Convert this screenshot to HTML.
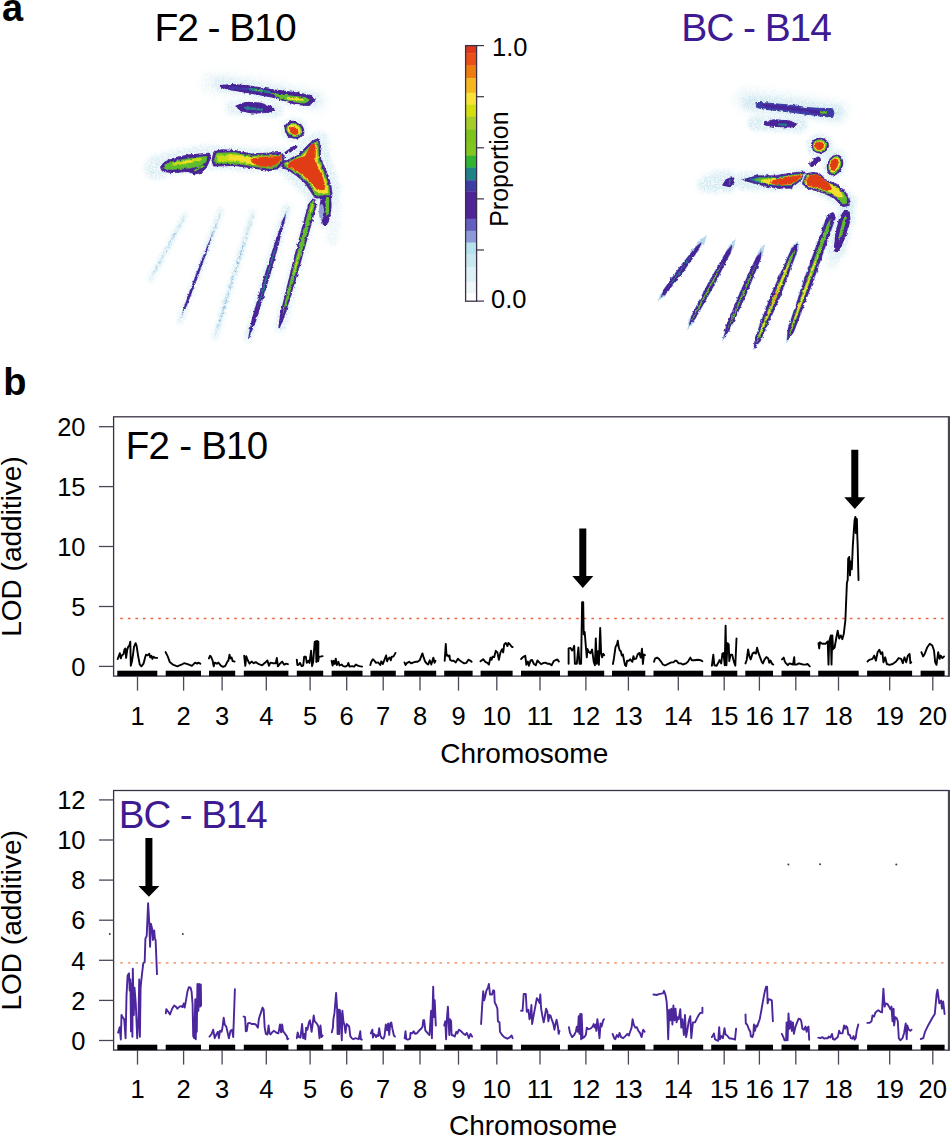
<!DOCTYPE html>
<html><head><meta charset="utf-8"><style>
html,body{margin:0;padding:0;background:#fff;}
body{width:950px;height:1137px;overflow:hidden;}
svg{display:block;}
text{font-family:"Liberation Sans", sans-serif;}
</style></head><body>
<svg width="950" height="1137" viewBox="0 0 950 1137">
<rect width="950" height="1137" fill="#fff"/>
<text x="2" y="20.5" font-size="38" font-weight="bold">a</text>
<text x="154.4" y="41.3" font-size="39" letter-spacing="-1.05">F2 - B10</text>
<text x="681.3" y="41" font-size="39" fill="#3e1b92" letter-spacing="-1.1">BC - B14</text>
<rect x="465.5" y="45.5" width="11" height="8.2" fill="rgb(222, 55, 28)"/>
<rect x="465.5" y="53.4" width="11" height="12.4" fill="rgb(232, 78, 22)"/>
<rect x="465.5" y="65.5" width="11" height="13.0" fill="rgb(238, 125, 15)"/>
<rect x="465.5" y="78.2" width="11" height="14.8" fill="rgb(245, 182, 30)"/>
<rect x="465.5" y="92.7" width="11" height="12.1" fill="rgb(248, 226, 55)"/>
<rect x="465.5" y="104.5" width="11" height="12.4" fill="rgb(212, 222, 15)"/>
<rect x="465.5" y="116.6" width="11" height="12.9" fill="rgb(165, 205, 40)"/>
<rect x="465.5" y="129.2" width="11" height="14.0" fill="rgb(125, 195, 25)"/>
<rect x="465.5" y="142.9" width="11" height="12.9" fill="rgb(130, 198, 32)"/>
<rect x="465.5" y="155.5" width="11" height="12.4" fill="rgb(50, 180, 50)"/>
<rect x="465.5" y="167.6" width="11" height="13.0" fill="rgb(30, 130, 135)"/>
<rect x="465.5" y="180.3" width="11" height="11.3" fill="rgb(60, 60, 165)"/>
<rect x="465.5" y="191.3" width="11" height="14.0" fill="rgb(80, 35, 150)"/>
<rect x="465.5" y="205.0" width="11" height="14.0" fill="rgb(80, 35, 150)"/>
<rect x="465.5" y="218.7" width="11" height="12.4" fill="rgb(100, 95, 190)"/>
<rect x="465.5" y="230.8" width="11" height="12.1" fill="rgb(140, 155, 215)"/>
<rect x="465.5" y="242.6" width="11" height="12.2" fill="rgb(180, 225, 235)"/>
<rect x="465.5" y="254.5" width="11" height="12.9" fill="rgb(200, 232, 238)"/>
<rect x="465.5" y="267.1" width="11" height="15.0" fill="rgb(220, 240, 245)"/>
<rect x="465.5" y="281.8" width="11" height="11.9" fill="rgb(238, 246, 248)"/>
<rect x="465.5" y="293.4" width="11" height="8.2" fill="rgb(255, 255, 255)"/>
<rect x="465.6" y="45.6" width="11" height="255.6" fill="none" stroke="#3b3147" stroke-width="1.3"/>
<line x1="476.5" y1="45.6" x2="484" y2="45.6" stroke="#3b3147" stroke-width="1.2"/>
<line x1="476.5" y1="96.7" x2="484" y2="96.7" stroke="#3b3147" stroke-width="1.2"/>
<line x1="476.5" y1="147.8" x2="484" y2="147.8" stroke="#3b3147" stroke-width="1.2"/>
<line x1="476.5" y1="198.9" x2="484" y2="198.9" stroke="#3b3147" stroke-width="1.2"/>
<line x1="476.5" y1="250.0" x2="484" y2="250.0" stroke="#3b3147" stroke-width="1.2"/>
<line x1="476.5" y1="301.1" x2="484" y2="301.1" stroke="#3b3147" stroke-width="1.2"/>
<text x="492" y="55.7" font-size="25.5">1.0</text>
<text x="491" y="308.2" font-size="25.5">0.0</text>
<text x="0" y="0" font-size="25" transform="translate(507.8,226.8) rotate(-90)">Proportion</text>
<defs><filter id="hb" filterUnits="userSpaceOnUse" x="0" y="0" width="950" height="400"><feGaussianBlur stdDeviation="2.2" result="b"/><feTurbulence type="fractalNoise" baseFrequency="0.7" numOctaves="2" seed="5" result="n"/><feColorMatrix in="n" type="matrix" values="0 0 0 0 0  0 0 0 0 0  0 0 0 0 0  0 0 0 2.2 -0.5" result="na"/><feComposite in="b" in2="na" operator="in"/></filter><filter id="hb2" filterUnits="userSpaceOnUse" x="0" y="0" width="950" height="400"><feGaussianBlur stdDeviation="4" result="b"/><feTurbulence type="fractalNoise" baseFrequency="0.7" numOctaves="2" seed="9" result="n"/><feColorMatrix in="n" type="matrix" values="0 0 0 0 0  0 0 0 0 0  0 0 0 0 0  0 0 0 2.2 -0.5" result="na"/><feComposite in="b" in2="na" operator="in"/></filter><filter id="speck" filterUnits="userSpaceOnUse" x="0" y="0" width="950" height="400"><feTurbulence type="fractalNoise" baseFrequency="0.45" numOctaves="2" seed="11" result="n"/><feColorMatrix in="n" type="matrix" values="0 0 0 0 0  0 0 0 0 0  0 0 0 0 0  0 0 0 3 -1.1" result="na"/><feComposite in="SourceGraphic" in2="na" operator="in"/></filter><filter id="grain" filterUnits="userSpaceOnUse" x="0" y="0" width="950" height="400"><feTurbulence type="fractalNoise" baseFrequency="0.3" numOctaves="2" seed="2" result="n"/><feDisplacementMap in="SourceGraphic" in2="n" scale="3" xChannelSelector="R" yChannelSelector="G" result="d"/><feGaussianBlur in="d" stdDeviation="0.6"/></filter></defs>
<g filter="url(#grain)">
<g opacity="0.85">
<path d="M212.0,83.0 L248.0,87.0 L273.0,92.0 L298.0,97.0 L316.0,101.0" fill="none" stroke="rgb(228,242,246)" stroke-width="22.0" stroke-linejoin="round" stroke-linecap="round" filter="url(#hb2)"/>
<path d="M220.0,84.0 L248.0,88.0 L273.0,92.5 L298.0,97.0 L314.0,100.5" fill="none" stroke="rgb(206,232,240)" stroke-width="14.0" stroke-linejoin="round" stroke-linecap="round" filter="url(#hb)"/>
<path d="M232.0,108.0 L258.0,108.5 L276.0,111.0" fill="none" stroke="rgb(206,232,240)" stroke-width="14.0" stroke-linejoin="round" stroke-linecap="round" filter="url(#hb)"/>
<ellipse cx="294.3" cy="129.6" rx="13" ry="12" fill="rgb(206,232,240)" filter="url(#hb)"/>
<path d="M156.0,168.0 L175.0,162.0 L210.0,157.0 L250.0,160.0 L282.0,160.0" fill="none" stroke="rgb(206,232,240)" stroke-width="24.0" stroke-linejoin="round" stroke-linecap="round" filter="url(#hb)"/>
<path d="M283.0,164.0 L313.0,142.0 L320.0,139.0 L323.0,160.0 L333.0,190.0 L331.0,198.0 L312.0,192.0 L292.0,173.0 Z" fill="rgb(206,232,240)" stroke="rgb(206,232,240)" stroke-width="16.0" stroke-linejoin="round" stroke-linecap="round" filter="url(#hb)"/>
<path d="M185.3,214.3 L150.0,280.6" fill="none" stroke="rgb(206,232,240)" stroke-width="5.0" stroke-linejoin="round" stroke-linecap="round" filter="url(#hb)"/>
<path d="M220.7,211.0 L179.8,321.5" fill="none" stroke="rgb(206,232,240)" stroke-width="6.0" stroke-linejoin="round" stroke-linecap="round" filter="url(#hb)"/>
<path d="M252.7,213.0 L215.0,337.0" fill="none" stroke="rgb(206,232,240)" stroke-width="6.0" stroke-linejoin="round" stroke-linecap="round" filter="url(#hb)"/>
<path d="M287.0,207.7 L248.3,338.0" fill="none" stroke="rgb(206,232,240)" stroke-width="9.0" stroke-linejoin="round" stroke-linecap="round" filter="url(#hb)"/>
<path d="M313.5,200.0 L280.4,326.0" fill="none" stroke="rgb(206,232,240)" stroke-width="12.0" stroke-linejoin="round" stroke-linecap="round" filter="url(#hb)"/>
<path d="M328.0,199.0 L323.5,222.0" fill="none" stroke="rgb(206,232,240)" stroke-width="12.0" stroke-linejoin="round" stroke-linecap="round" filter="url(#hb)"/>
<path d="M335.0,205.0 L332.0,240.0" fill="none" stroke="rgb(228,242,246)" stroke-width="12.0" stroke-linejoin="round" stroke-linecap="round" filter="url(#hb)"/>
</g>
<path d="M220.0,85.6 L232.0,84.6 L248.0,85.8 L273.0,89.8 L298.0,93.0 L310.0,95.5 L315.0,99.5 L309.0,105.5 L296.0,104.5 L273.0,97.2 L248.0,92.6 L232.0,90.0 L222.0,87.6 Z" fill="rgb(72,36,152)" stroke="rgb(72,36,152)" stroke-width="1.2" stroke-linejoin="round" stroke-linecap="round"/>
<path d="M230.0,87.4 L262.0,90.5" fill="none" stroke="rgb(62,58,165)" stroke-width="2.0" stroke-linejoin="round" stroke-linecap="round"/>
<path d="M250.0,89.0 L270.0,92.3" fill="none" stroke="rgb(35,130,135)" stroke-width="2.4" stroke-linejoin="round" stroke-linecap="round"/>
<path d="M256.0,89.8 L262.0,90.8" fill="none" stroke="rgb(95,188,45)" stroke-width="1.4" stroke-linejoin="round" stroke-linecap="round"/>
<path d="M272.0,93.5 L290.0,96.0 L305.0,97.5 L310.0,100.5 L304.0,103.0 L293.0,101.5 L278.0,97.5 Z" fill="rgb(95,188,45)" stroke="rgb(95,188,45)" stroke-width="1.0" stroke-linejoin="round" stroke-linecap="round"/>
<path d="M288.0,98.3 L302.0,99.5" fill="none" stroke="rgb(245,222,45)" stroke-width="2.6" stroke-linejoin="round" stroke-linecap="round"/>
<path d="M236.0,106.0 L246.0,102.3 L260.0,103.0 L271.0,106.5 L274.5,109.5 L268.0,112.5 L252.0,112.8 L241.0,110.8 Z" fill="rgb(72,36,152)" stroke="rgb(72,36,152)" stroke-width="1.2" stroke-linejoin="round" stroke-linecap="round"/>
<path d="M245.0,108.0 L262.0,109.5" fill="none" stroke="rgb(35,130,135)" stroke-width="2.4" stroke-linejoin="round" stroke-linecap="round"/>
<ellipse cx="294.3" cy="129.8" rx="10.4" ry="8.6" fill="rgb(72,36,152)" transform="rotate(28 294.3 129.8)"/>
<ellipse cx="294.2" cy="129.9" rx="8.2" ry="6.6" fill="rgb(95,188,45)" transform="rotate(28 294.2 129.9)"/>
<ellipse cx="294.2" cy="130.0" rx="6.8" ry="5.4" fill="rgb(245,222,45)" transform="rotate(28 294.2 130.0)"/>
<ellipse cx="294.0" cy="131.0" rx="4.8" ry="3.4" fill="rgb(224,62,22)" transform="rotate(35 294.0 131.0)"/>
<path d="M160.5,167.0 L164.0,162.5 L172.0,158.5 L188.0,155.0 L209.0,153.2 L210.5,158.0 L207.0,166.0 L203.0,172.0 L195.0,174.0 L188.0,171.5 L172.0,172.5 L163.0,171.5 Z" fill="rgb(72,36,152)" stroke="rgb(72,36,152)" stroke-width="1.0" stroke-linejoin="round" stroke-linecap="round"/>
<path d="M164.0,166.5 L168.0,163.0 L180.0,160.0 L200.0,157.0 L207.0,156.5 L206.0,162.0 L200.0,166.0 L190.0,168.0 L172.0,169.5 L165.0,169.0 Z" fill="rgb(95,188,45)" stroke="rgb(95,188,45)" stroke-width="0.6" stroke-linejoin="round" stroke-linecap="round"/>
<path d="M174.0,164.0 L200.0,159.5" fill="none" stroke="rgb(200,220,20)" stroke-width="3.4" stroke-linejoin="round" stroke-linecap="round"/>
<path d="M182.0,162.5 L192.0,161.0" fill="none" stroke="rgb(245,222,45)" stroke-width="1.6" stroke-linejoin="round" stroke-linecap="round"/>
<path d="M195.0,170.5 L203.0,166.0" fill="none" stroke="rgb(95,188,45)" stroke-width="2.0" stroke-linejoin="round" stroke-linecap="round"/>
<path d="M212.0,160.0 L214.0,151.5 L222.0,149.8 L235.0,150.5 L251.0,154.0 L270.0,153.0 L281.0,152.5 L284.5,156.0 L283.0,163.0 L278.0,168.5 L270.0,170.5 L253.0,168.0 L235.0,165.5 L214.0,166.0 Z" fill="rgb(72,36,152)" stroke="rgb(72,36,152)" stroke-width="1.0" stroke-linejoin="round" stroke-linecap="round"/>
<path d="M214.5,158.0 L217.0,153.0 L235.0,152.5 L251.0,156.0 L270.0,155.2 L281.5,154.6 L282.0,161.0 L276.0,167.0 L268.0,168.5 L252.0,166.0 L235.0,163.5 L216.0,163.5 Z" fill="rgb(95,188,45)" stroke="rgb(95,188,45)" stroke-width="0.5" stroke-linejoin="round" stroke-linecap="round"/>
<path d="M217.0,156.0 L235.0,154.5 L251.0,157.3 L268.0,156.5 L281.0,155.8 L280.0,161.0 L273.0,166.0 L262.0,166.0 L250.0,164.0 L235.0,161.5 L218.0,161.0 Z" fill="rgb(200,220,20)" stroke="rgb(200,220,20)" stroke-width="0.5" stroke-linejoin="round" stroke-linecap="round"/>
<path d="M228.0,156.0 L240.0,155.8 L251.0,157.8 L268.0,157.0 L281.0,156.2 L280.0,161.0 L273.0,165.8 L262.0,165.8 L250.0,163.5 L240.0,161.0 L229.0,159.5 Z" fill="rgb(245,222,45)" stroke="rgb(245,222,45)" stroke-width="0.5" stroke-linejoin="round" stroke-linecap="round"/>
<path d="M251.5,159.0 L262.0,157.2 L281.0,156.5 L280.5,160.0 L275.0,165.3 L268.0,166.5 L258.0,165.8 L252.0,162.0 Z" fill="rgb(224,62,22)" stroke="rgb(224,62,22)" stroke-width="0.8" stroke-linejoin="round" stroke-linecap="round"/>
<path d="M286.0,153.0 L296.0,146.0" fill="none" stroke="rgb(72,36,152)" stroke-width="3.0" stroke-linejoin="round" stroke-linecap="round"/>
<path d="M281.0,163.0 L290.0,159.0 L300.0,153.0 L306.0,147.0 L311.0,142.0 L316.0,139.3 L319.5,139.5 L320.0,150.0 L321.0,160.0 L324.0,166.0 L328.0,176.0 L331.0,186.0 L332.0,193.0 L331.5,198.0 L315.0,198.0 L311.0,192.0 L305.0,183.0 L297.0,176.0 L289.0,170.5 L282.0,167.0 Z" fill="rgb(72,36,152)" stroke="rgb(72,36,152)" stroke-width="0.8" stroke-linejoin="round" stroke-linecap="round"/>
<path d="M284.0,163.3 L292.0,160.0 L301.0,155.0 L307.0,149.0 L312.0,144.0 L316.0,141.5 L318.0,142.0 L318.5,151.0 L319.0,160.0 L322.0,167.0 L326.0,177.0 L329.0,187.0 L330.0,195.0 L316.5,195.5 L313.0,190.5 L307.0,182.0 L298.5,174.5 L290.0,169.0 L285.0,166.0 Z" fill="rgb(95,188,45)" stroke="rgb(95,188,45)" stroke-width="0.5" stroke-linejoin="round" stroke-linecap="round"/>
<path d="M286.0,163.5 L293.0,160.5 L302.0,156.5 L308.0,150.5 L312.5,145.5 L316.0,143.5 L317.0,151.0 L317.5,160.0 L320.5,167.5 L324.5,177.5 L327.5,187.0 L328.0,193.0 L318.0,193.0 L314.5,189.0 L308.5,181.0 L300.0,173.5 L291.0,168.0 L287.0,166.0 Z" fill="rgb(245,222,45)" stroke="rgb(245,222,45)" stroke-width="0.5" stroke-linejoin="round" stroke-linecap="round"/>
<path d="M287.5,163.8 L295.0,159.5 L305.0,156.5 L308.5,150.0 L311.5,144.5 L314.5,144.0 L315.5,150.0 L315.0,160.0 L318.0,168.0 L322.5,177.5 L325.0,186.0 L324.0,190.0 L317.0,189.5 L310.0,181.0 L302.0,174.0 L294.0,169.0 L288.5,166.5 Z" fill="rgb(224,62,22)" stroke="rgb(224,62,22)" stroke-width="0.8" stroke-linejoin="round" stroke-linecap="round"/>
<path d="M186.0,213.0 L181.0,219.2 L165.7,246.6 L151.4,274.4 L149.0,282.0 L149.0,282.0 L154.0,275.8 L169.3,248.4 L183.6,220.6 L186.0,213.0 Z" fill="rgb(200,228,240)" filter="url(#speck)"/>
<path d="M182.3,219.9 L174.4,233.4 L163.1,254.0 L155.9,267.9 L152.7,275.1 L152.7,275.1 L156.9,268.5 L164.5,254.8 L175.4,234.0 L182.3,219.9 Z" fill="rgb(170,205,230)" filter="url(#speck)"/>
<path d="M222.0,209.0 L216.1,219.8 L198.4,265.2 L181.7,311.0 L179.0,323.0 L179.0,323.0 L184.9,312.2 L202.6,266.8 L219.3,221.0 L222.0,209.0 Z" fill="rgb(185,220,236)" filter="url(#speck)"/>
<path d="M216.8,222.7 L208.0,242.8 L194.6,276.8 L184.1,305.4 L180.3,319.6 L180.3,319.6 L186.8,306.4 L197.8,278.0 L210.2,243.6 L216.8,222.7 Z" fill="rgb(150,160,215)" filter="url(#speck)"/>
<path d="M212.5,234.1 L206.2,248.6 L195.0,276.9 L184.5,305.5 L182.0,315.0 L182.0,315.0 L186.4,306.3 L197.4,277.9 L207.7,249.2 L212.5,234.1 Z" fill="rgb(72,36,152)"/>
<path d="M254.0,211.0 L248.3,223.3 L231.9,274.3 L216.3,325.7 L214.0,339.0 L214.0,339.0 L219.7,326.7 L236.1,275.7 L251.7,224.3 L254.0,211.0 Z" fill="rgb(195,226,238)" filter="url(#speck)"/>
<path d="M248.0,230.2 L241.3,249.2 L229.1,287.5 L219.3,319.6 L216.0,332.6 L216.0,332.6 L220.7,320.0 L230.9,288.1 L242.7,249.6 L248.0,230.2 Z" fill="rgb(150,190,225)" filter="url(#speck)"/>
<path d="M288.0,206.0 L282.6,216.1 L264.9,272.1 L247.8,332.7 L248.0,340.0 L248.0,340.0 L252.2,333.9 L271.1,273.9 L287.0,217.4 L288.0,206.0 Z" fill="rgb(185,220,236)" filter="url(#speck)"/>
<path d="M286.0,212.7 L283.0,219.1 L273.9,245.6 L265.4,272.2 L251.7,319.2 L247.8,339.9 L248.2,340.1 L256.3,320.6 L270.6,273.8 L278.1,246.8 L285.0,219.7 L286.0,212.7 Z" fill="rgb(72,36,152)"/>
<path d="M278.0,239.5 L271.4,259.4 L263.3,286.2 L256.0,313.2 L256.0,313.2 L264.7,286.6 L272.6,259.8 L278.0,239.5 Z" fill="rgb(35,130,135)"/>
<path d="M312.6,198.6 L308.1,204.3 L292.7,262.5 L280.0,314.4 L278.3,327.8 L279.7,328.2 L285.0,315.8 L300.3,264.5 L316.4,206.6 L315.4,199.4 Z" fill="rgb(72,36,152)"/>
<path d="M314.0,199.0 L310.0,204.8 L294.6,263.0 L284.9,301.9 L282.5,315.1 L282.5,315.1 L287.1,302.5 L298.4,264.0 L314.5,206.1 L314.0,199.0 Z" fill="rgb(95,188,45)"/>
<path d="M312.9,202.9 L310.5,207.7 L309.8,214.5 L300.0,250.6 L295.6,263.3 L293.0,276.4 L293.0,276.4 L297.4,263.7 L300.0,250.6 L309.8,214.5 L312.6,208.3 L312.9,202.9 Z" fill="rgb(200,220,20)"/>
<path d="M321.0,196.8 L319.7,205.2 L320.3,216.4 L323.0,224.9 L327.0,225.1 L330.3,216.8 L331.7,205.6 L331.0,197.2 Z" fill="rgb(72,36,152)"/>
<ellipse cx="321.5" cy="212" rx="2.6" ry="8" fill="rgb(150,160,215)"/>
<path d="M326.3,197.0 L325.7,199.5 L325.7,212.0 L327.1,217.0 L327.1,217.0 L328.7,212.0 L329.2,199.5 L328.7,197.0 Z" fill="rgb(95,188,45)"/>
<g>
<path d="M745.0,99.0 L790.0,104.0 L838.0,112.0" fill="none" stroke="rgb(228,242,246)" stroke-width="22.0" stroke-linejoin="round" stroke-linecap="round" filter="url(#hb2)"/>
<path d="M750.0,103.0 L790.0,107.0 L836.0,113.0" fill="none" stroke="rgb(206,232,240)" stroke-width="16.0" stroke-linejoin="round" stroke-linecap="round" filter="url(#hb)"/>
<path d="M755.0,123.0 L800.0,125.0" fill="none" stroke="rgb(206,232,240)" stroke-width="15.0" stroke-linejoin="round" stroke-linecap="round" filter="url(#hb)"/>
<path d="M699.0,183.0 L712.0,174.0 L730.0,172.0 L736.0,180.0 L732.0,190.0 L712.0,191.0 L700.0,189.0 Z" fill="rgb(206,232,240)" stroke="rgb(206,232,240)" stroke-width="4.0" stroke-linejoin="round" stroke-linecap="round" filter="url(#hb)"/>
<ellipse cx="820" cy="146" rx="13" ry="12" fill="rgb(206,232,240)" filter="url(#hb)"/>
<ellipse cx="835" cy="164" rx="11" ry="15" fill="rgb(206,232,240)" transform="rotate(20 835 164)" filter="url(#hb)"/>
<path d="M744.0,181.0 L775.0,182.0 L803.0,178.0 L820.0,185.0 L848.0,202.0" fill="none" stroke="rgb(206,232,240)" stroke-width="18.0" stroke-linejoin="round" stroke-linecap="round" filter="url(#hb)"/>
<path d="M846.0,214.0 L836.0,250.0" fill="none" stroke="rgb(206,232,240)" stroke-width="18.0" stroke-linejoin="round" stroke-linecap="round" filter="url(#hb)"/>
<path d="M843.0,235.0 L832.0,262.0" fill="none" stroke="rgb(228,242,246)" stroke-width="14.0" stroke-linejoin="round" stroke-linecap="round" filter="url(#hb)"/>
</g>
<path d="M756.2,102.5 L763.2,102.7 L786.3,104.8 L809.5,107.8 L832.6,108.8 L834.0,113.2 L832.6,117.5 L809.5,114.6 L786.3,111.6 L763.0,109.0 L757.0,107.5 Z" fill="rgb(62,58,165)" stroke="rgb(62,58,165)" stroke-width="1.0" stroke-linejoin="round" stroke-linecap="round"/>
<path d="M764.0,105.5 L800.0,109.5 L826.0,113.5" fill="none" stroke="rgb(72,36,152)" stroke-width="3.0" stroke-linejoin="round" stroke-linecap="round"/>
<path d="M821.0,112.6 L826.0,112.8" fill="none" stroke="rgb(95,188,45)" stroke-width="2.0" stroke-linejoin="round" stroke-linecap="round"/>
<path d="M764.9,121.5 L774.7,119.7 L790.0,121.0 L796.7,124.0 L794.0,127.0 L774.7,126.5 L765.0,125.0 Z" fill="rgb(72,36,152)" stroke="rgb(72,36,152)" stroke-width="1.0" stroke-linejoin="round" stroke-linecap="round"/>
<path d="M778.0,124.5 L787.0,124.8" fill="none" stroke="rgb(35,130,135)" stroke-width="2.0" stroke-linejoin="round" stroke-linecap="round"/>
<ellipse cx="819.9" cy="145.6" rx="9.0" ry="7.8" fill="rgb(72,36,152)"/>
<ellipse cx="819.7" cy="145.6" rx="7.0" ry="6.2" fill="rgb(95,188,45)"/>
<ellipse cx="819.5" cy="145.6" rx="5.8" ry="5.2" fill="rgb(245,222,45)"/>
<ellipse cx="819.3" cy="145.6" rx="4.5" ry="4.3" fill="rgb(224,62,22)"/>
<path d="M812.0,164.0 L818.0,159.5" fill="none" stroke="rgb(72,36,152)" stroke-width="5.5" stroke-linejoin="round" stroke-linecap="round"/>
<ellipse cx="835.0" cy="165.0" rx="7.8" ry="10.8" fill="rgb(72,36,152)" transform="rotate(22 835.0 165.0)"/>
<ellipse cx="834.8" cy="165.0" rx="6.0" ry="9.0" fill="rgb(95,188,45)" transform="rotate(22 834.8 165.0)"/>
<ellipse cx="834.5" cy="164.8" rx="5.0" ry="7.8" fill="rgb(245,222,45)" transform="rotate(22 834.5 164.8)"/>
<ellipse cx="834.1" cy="164.5" rx="3.8" ry="6.4" fill="rgb(224,62,22)" transform="rotate(22 834.1 164.5)"/>
<path d="M723.0,185.0 L727.0,179.0 L733.5,178.0 L734.0,182.0 L730.0,186.5 Z" fill="rgb(72,36,152)" stroke="rgb(72,36,152)" stroke-width="1.5" stroke-linejoin="round" stroke-linecap="round"/>
<path d="M730.0,180.0 L729.5,184.5" fill="none" stroke="rgb(35,130,135)" stroke-width="1.5" stroke-linejoin="round" stroke-linecap="round"/>
<path d="M743.0,179.6 L757.0,175.8 L775.9,175.8 L794.8,172.6 L805.0,172.0 L801.0,180.0 L791.0,188.2 L775.9,188.2 L757.0,184.2 Z" fill="rgb(72,36,152)" stroke="rgb(72,36,152)" stroke-width="0.8" stroke-linejoin="round" stroke-linecap="round"/>
<path d="M750.0,179.5 L757.0,177.5 L775.9,177.5 L794.8,174.5 L803.0,174.0 L800.0,179.0 L791.0,185.5 L775.9,185.5 L757.0,182.0 Z" fill="rgb(35,130,135)" stroke="rgb(35,130,135)" stroke-width="0.5" stroke-linejoin="round" stroke-linecap="round"/>
<path d="M755.0,179.5 L760.0,178.0 L775.9,178.0 L794.8,175.0 L802.5,174.5 L799.5,179.0 L790.5,185.0 L775.9,185.0 L760.0,182.0 Z" fill="rgb(95,188,45)" stroke="rgb(95,188,45)" stroke-width="0.5" stroke-linejoin="round" stroke-linecap="round"/>
<path d="M762.0,180.0 L775.9,178.5 L794.8,175.5 L802.0,175.0 L799.0,179.0 L790.0,184.5 L775.9,184.5 L763.0,182.5 Z" fill="rgb(245,222,45)" stroke="rgb(245,222,45)" stroke-width="0.5" stroke-linejoin="round" stroke-linecap="round"/>
<path d="M772.0,181.0 L780.0,178.5 L794.8,176.2 L801.0,175.8 L798.0,179.5 L790.0,184.0 L778.0,184.5 L772.0,183.5 Z" fill="rgb(224,62,22)" stroke="rgb(224,62,22)" stroke-width="0.8" stroke-linejoin="round" stroke-linecap="round"/>
<path d="M806.2,173.9 L813.8,172.0 L820.1,173.9 L826.4,180.2 L836.5,184.0 L844.1,190.3 L849.2,197.9 L849.2,205.5 L842.8,206.7 L834.0,197.9 L820.1,191.6 L808.7,189.0 L802.4,184.0 Z" fill="rgb(72,36,152)" stroke="rgb(72,36,152)" stroke-width="0.8" stroke-linejoin="round" stroke-linecap="round"/>
<path d="M807.0,176.0 L814.0,174.2 L820.0,176.0 L826.0,182.0 L836.0,186.0 L843.0,192.0 L847.0,198.5 L846.5,203.5 L843.0,204.0 L834.5,196.0 L820.0,189.5 L809.0,187.0 L804.5,183.5 Z" fill="rgb(95,188,45)" stroke="rgb(95,188,45)" stroke-width="0.5" stroke-linejoin="round" stroke-linecap="round"/>
<path d="M807.5,176.5 L815.0,175.0 L821.0,177.0 L828.0,183.0 L836.0,187.0 L841.0,192.0 L843.0,197.0 L838.0,197.0 L830.0,192.0 L820.0,189.0 L809.0,186.5 L805.5,183.0 Z" fill="rgb(245,222,45)" stroke="rgb(245,222,45)" stroke-width="0.5" stroke-linejoin="round" stroke-linecap="round"/>
<path d="M808.7,176.4 L816.3,174.5 L821.4,177.7 L828.9,184.0 L831.5,189.0 L826.4,190.3 L816.3,187.2 L808.1,185.3 L806.8,180.2 Z" fill="rgb(224,62,22)" stroke="rgb(224,62,22)" stroke-width="1.0" stroke-linejoin="round" stroke-linecap="round"/>
<path d="M707.0,235.0 L699.9,240.0 L679.7,265.9 L660.7,292.8 L658.0,301.0 L658.0,301.0 L665.1,296.0 L685.3,270.1 L704.3,243.2 L707.0,235.0 Z" fill="rgb(178,216,234)"/>
<path d="M702.1,241.6 L695.6,247.0 L680.2,266.3 L663.5,289.8 L660.5,297.7 L660.5,297.7 L667.2,292.4 L684.8,269.7 L698.8,249.4 L702.1,241.6 Z" fill="rgb(72,36,152)"/>
<path d="M692.3,254.8 L687.0,261.1 L672.3,280.9 L667.8,287.8 L667.8,287.8 L673.1,281.5 L687.8,261.7 L692.3,254.8 Z" fill="rgb(35,130,135)"/>
<path d="M736.0,238.0 L728.6,246.0 L707.7,282.7 L688.6,320.4 L686.0,331.0 L686.0,331.0 L693.4,323.0 L714.3,286.3 L733.4,248.6 L736.0,238.0 Z" fill="rgb(178,216,234)"/>
<path d="M733.0,243.6 L726.5,250.9 L708.2,283.0 L691.3,315.9 L688.5,326.4 L688.5,326.4 L695.7,318.2 L713.8,286.0 L730.5,253.0 L733.0,243.6 Z" fill="rgb(72,36,152)"/>
<path d="M723.5,261.2 L715.4,274.9 L695.3,312.0 L691.0,321.7 L691.0,321.7 L696.7,312.8 L716.6,275.5 L723.5,261.2 Z" fill="rgb(95,188,45)"/>
<path d="M765.0,243.0 L758.2,251.8 L739.8,290.9 L723.8,331.0 L722.0,342.0 L722.0,342.0 L728.8,333.2 L747.2,294.1 L763.2,254.0 L765.0,243.0 Z" fill="rgb(178,216,234)"/>
<path d="M761.6,250.9 L756.3,256.9 L740.4,291.2 L726.1,326.1 L723.3,339.0 L723.3,339.0 L730.8,328.2 L746.6,293.8 L760.8,258.8 L761.6,250.9 Z" fill="rgb(72,36,152)"/>
<path d="M756.4,262.8 L749.3,277.4 L734.1,311.9 L726.3,332.1 L726.3,332.1 L735.7,312.7 L750.6,277.9 L756.4,262.8 Z" fill="rgb(95,188,45)"/>
<path d="M798.0,241.0 L792.3,245.1 L770.6,294.0 L754.0,338.6 L753.0,351.0 L753.0,351.0 L761.0,341.4 L780.4,298.0 L799.2,247.9 L798.0,241.0 Z" fill="rgb(178,216,234)"/>
<path d="M797.1,243.2 L791.5,248.6 L771.2,294.2 L754.6,338.8 L753.9,348.8 L753.9,348.8 L760.4,341.2 L779.8,297.8 L797.3,251.0 L797.1,243.2 Z" fill="rgb(72,36,152)"/>
<path d="M794.4,249.8 L790.1,257.0 L773.7,295.3 L758.6,334.0 L756.1,343.3 L756.1,343.3 L760.9,335.0 L777.3,296.7 L792.4,258.0 L794.4,249.8 Z" fill="rgb(95,188,45)"/>
<path d="M789.9,260.8 L786.2,268.3 L774.5,295.6 L761.4,328.8 L758.4,337.8 L758.4,337.8 L762.6,329.2 L776.5,296.4 L787.3,268.7 L789.9,260.8 Z" fill="rgb(245,222,45)"/>
<path d="M780.0,285.0 L774.8,295.7 L771.0,307.0 L771.0,307.0 L776.2,296.3 L780.0,285.0 Z" fill="rgb(240,140,20)"/>
<path d="M833.0,212.0 L826.2,215.5 L804.6,276.2 L787.2,329.5 L786.0,344.0 L786.0,344.0 L794.2,332.1 L814.4,279.8 L836.1,219.0 L833.0,212.0 Z" fill="rgb(178,216,234)"/>
<path d="M833.0,212.0 L827.5,214.5 L805.1,276.4 L787.5,329.7 L786.9,341.4 L786.9,341.4 L793.9,331.9 L813.9,279.6 L835.7,217.4 L833.0,212.0 Z" fill="rgb(72,36,152)"/>
<path d="M830.6,218.6 L826.9,224.7 L807.7,277.4 L791.8,323.8 L788.4,337.4 L788.4,337.4 L794.3,324.6 L811.3,278.6 L829.7,225.7 L830.6,218.6 Z" fill="rgb(95,188,45)"/>
<path d="M821.2,245.0 L813.6,264.6 L803.9,290.9 L794.8,317.4 L790.7,330.8 L790.7,330.8 L796.0,317.8 L805.7,291.5 L814.8,265.0 L821.2,245.0 Z" fill="rgb(245,222,45)"/>
<path d="M844.2,210.3 L839.1,217.7 L835.2,234.2 L833.9,247.0 L834.7,251.7 L837.3,252.3 L840.3,248.8 L845.6,237.0 L850.5,220.7 L849.8,211.7 Z" fill="rgb(72,36,152)"/>
<path d="M845.9,215.1 L842.6,220.8 L839.0,235.2 L838.8,241.8 L838.8,241.8 L841.8,236.0 L845.9,221.7 L845.9,215.1 Z" fill="rgb(95,188,45)"/>
</g>
<text x="3.2" y="394.9" font-size="38" font-weight="bold">b</text>
<rect x="113.6" y="416.8" width="835" height="259.3" fill="none" stroke="#3b3147" stroke-width="1.3"/>
<line x1="949" y1="416.2" x2="949" y2="676.7" stroke="#4a4550" stroke-width="2.2"/>
<line x1="99" y1="666.4" x2="113.6" y2="666.4" stroke="#4e4458" stroke-width="1.3"/>
<text x="85.5" y="675.6" font-size="25.5" text-anchor="end">0</text>
<line x1="99" y1="606.5" x2="113.6" y2="606.5" stroke="#4e4458" stroke-width="1.3"/>
<text x="85.5" y="615.7" font-size="25.5" text-anchor="end">5</text>
<line x1="99" y1="546.5" x2="113.6" y2="546.5" stroke="#4e4458" stroke-width="1.3"/>
<text x="85.5" y="555.8" font-size="25.5" text-anchor="end">10</text>
<line x1="99" y1="486.6" x2="113.6" y2="486.6" stroke="#4e4458" stroke-width="1.3"/>
<text x="85.5" y="495.8" font-size="25.5" text-anchor="end">15</text>
<line x1="99" y1="426.7" x2="113.6" y2="426.7" stroke="#4e4458" stroke-width="1.3"/>
<text x="85.5" y="435.9" font-size="25.5" text-anchor="end">20</text>
<rect x="117.3" y="670.7" width="40.0" height="5.4" fill="#000"/>
<rect x="165.7" y="670.7" width="35.3" height="5.4" fill="#000"/>
<rect x="209" y="670.7" width="26.2" height="5.4" fill="#000"/>
<rect x="243.8" y="670.7" width="44.6" height="5.4" fill="#000"/>
<rect x="296.8" y="670.7" width="26.4" height="5.4" fill="#000"/>
<rect x="331.6" y="670.7" width="30.9" height="5.4" fill="#000"/>
<rect x="370.5" y="670.7" width="25.3" height="5.4" fill="#000"/>
<rect x="404.2" y="670.7" width="32.0" height="5.4" fill="#000"/>
<rect x="444.2" y="670.7" width="28.4" height="5.4" fill="#000"/>
<rect x="480.6" y="670.7" width="32.0" height="5.4" fill="#000"/>
<rect x="521" y="670.7" width="39.0" height="5.4" fill="#000"/>
<rect x="567.8" y="670.7" width="36.4" height="5.4" fill="#000"/>
<rect x="612" y="670.7" width="33.3" height="5.4" fill="#000"/>
<rect x="653.5" y="670.7" width="49.7" height="5.4" fill="#000"/>
<rect x="711.2" y="670.7" width="26.1" height="5.4" fill="#000"/>
<rect x="745.3" y="670.7" width="27.7" height="5.4" fill="#000"/>
<rect x="781.5" y="670.7" width="28.6" height="5.4" fill="#000"/>
<rect x="818.2" y="670.7" width="40.5" height="5.4" fill="#000"/>
<rect x="867.1" y="670.7" width="45.0" height="5.4" fill="#000"/>
<rect x="920.6" y="670.7" width="24.0" height="5.4" fill="#000"/>
<line x1="137.5" y1="676.1" x2="137.5" y2="690.6" stroke="#4e4458" stroke-width="1.3"/>
<text x="137.5" y="724.9" font-size="25.5" text-anchor="middle">1</text>
<line x1="183.6" y1="676.1" x2="183.6" y2="690.6" stroke="#4e4458" stroke-width="1.3"/>
<text x="183.6" y="724.9" font-size="25.5" text-anchor="middle">2</text>
<line x1="222.1" y1="676.1" x2="222.1" y2="690.6" stroke="#4e4458" stroke-width="1.3"/>
<text x="222.1" y="724.9" font-size="25.5" text-anchor="middle">3</text>
<line x1="266.3" y1="676.1" x2="266.3" y2="690.6" stroke="#4e4458" stroke-width="1.3"/>
<text x="266.3" y="724.9" font-size="25.5" text-anchor="middle">4</text>
<line x1="310.1" y1="676.1" x2="310.1" y2="690.6" stroke="#4e4458" stroke-width="1.3"/>
<text x="310.1" y="724.9" font-size="25.5" text-anchor="middle">5</text>
<line x1="346.7" y1="676.1" x2="346.7" y2="690.6" stroke="#4e4458" stroke-width="1.3"/>
<text x="346.7" y="724.9" font-size="25.5" text-anchor="middle">6</text>
<line x1="383.2" y1="676.1" x2="383.2" y2="690.6" stroke="#4e4458" stroke-width="1.3"/>
<text x="383.2" y="724.9" font-size="25.5" text-anchor="middle">7</text>
<line x1="420" y1="676.1" x2="420" y2="690.6" stroke="#4e4458" stroke-width="1.3"/>
<text x="420" y="724.9" font-size="25.5" text-anchor="middle">8</text>
<line x1="458.5" y1="676.1" x2="458.5" y2="690.6" stroke="#4e4458" stroke-width="1.3"/>
<text x="458.5" y="724.9" font-size="25.5" text-anchor="middle">9</text>
<line x1="496.8" y1="676.1" x2="496.8" y2="690.6" stroke="#4e4458" stroke-width="1.3"/>
<text x="496.8" y="724.9" font-size="25.5" text-anchor="middle">10</text>
<line x1="540" y1="676.1" x2="540" y2="690.6" stroke="#4e4458" stroke-width="1.3"/>
<text x="540" y="724.9" font-size="25.5" text-anchor="middle">11</text>
<line x1="585.9" y1="676.1" x2="585.9" y2="690.6" stroke="#4e4458" stroke-width="1.3"/>
<text x="585.9" y="724.9" font-size="25.5" text-anchor="middle">12</text>
<line x1="628.4" y1="676.1" x2="628.4" y2="690.6" stroke="#4e4458" stroke-width="1.3"/>
<text x="628.4" y="724.9" font-size="25.5" text-anchor="middle">13</text>
<line x1="678.3" y1="676.1" x2="678.3" y2="690.6" stroke="#4e4458" stroke-width="1.3"/>
<text x="678.3" y="724.9" font-size="25.5" text-anchor="middle">14</text>
<line x1="724.2" y1="676.1" x2="724.2" y2="690.6" stroke="#4e4458" stroke-width="1.3"/>
<text x="724.2" y="724.9" font-size="25.5" text-anchor="middle">15</text>
<line x1="759.4" y1="676.1" x2="759.4" y2="690.6" stroke="#4e4458" stroke-width="1.3"/>
<text x="759.4" y="724.9" font-size="25.5" text-anchor="middle">16</text>
<line x1="795.8" y1="676.1" x2="795.8" y2="690.6" stroke="#4e4458" stroke-width="1.3"/>
<text x="795.8" y="724.9" font-size="25.5" text-anchor="middle">17</text>
<line x1="838.5" y1="676.1" x2="838.5" y2="690.6" stroke="#4e4458" stroke-width="1.3"/>
<text x="838.5" y="724.9" font-size="25.5" text-anchor="middle">18</text>
<line x1="889.7" y1="676.1" x2="889.7" y2="690.6" stroke="#4e4458" stroke-width="1.3"/>
<text x="889.7" y="724.9" font-size="25.5" text-anchor="middle">19</text>
<line x1="932.8" y1="676.1" x2="932.8" y2="690.6" stroke="#4e4458" stroke-width="1.3"/>
<text x="932.8" y="724.9" font-size="25.5" text-anchor="middle">20</text>
<text x="440.2" y="763" font-size="28">Chromosome</text>
<text x="0" y="0" font-size="28" text-anchor="middle" transform="translate(21.1,546.5) rotate(-90)">LOD (additive)</text>
<line x1="115" y1="618.5" x2="948" y2="618.5" stroke="#ee6438" stroke-width="1.4" stroke-dasharray="2.6 5" stroke-dashoffset="2.4"/>
<text x="125.8" y="458.8" font-size="38.5" letter-spacing="-0.75">F2 - B10</text>
<polyline points="117.7,659.0 118.7,656.3 119.8,653.2 120.8,658.4 121.9,655.3 123.5,654.2 124.5,649.5 125.4,648.4 126.1,657.9 127.2,650.0 128.2,646.8 129.3,645.8 130.3,641.6 130.8,665.8 131.9,661.6 132.9,655.3 134.0,646.8 135.6,643.2 136.6,645.8 138.2,656.3 139.8,664.7 141.4,666.3 143.5,663.7 145.1,657.4 146.1,654.7 147.7,655.3 149.3,653.7 150.3,657.4 151.4,655.8 152.4,658.9 153.5,656.8 155.1,657.9 157.2,657.9" fill="none" stroke="#000" stroke-width="1.9" stroke-linejoin="round" stroke-linecap="round"/>
<polyline points="165.6,652.1 167.7,656.3 169.8,662.1 173.0,664.7 177.2,666.3 181.4,664.7 184.0,663.2 187.7,664.2 191.9,665.8 195.1,662.6 197.2,663.7 198.2,662.6 200.3,663.7" fill="none" stroke="#000" stroke-width="1.9" stroke-linejoin="round" stroke-linecap="round"/>
<polyline points="208.9,658.4 210.0,655.8 211.1,656.8 212.6,660.5 213.7,666.3 214.7,662.6 216.8,663.7 218.4,662.6 221.1,665.8 223.2,666.8 225.3,665.8 227.4,661.6 228.4,660.5 229.5,654.7 230.5,658.4 231.6,657.4 232.6,661.0 234.7,661.6" fill="none" stroke="#000" stroke-width="1.9" stroke-linejoin="round" stroke-linecap="round"/>
<polyline points="244.2,655.8 245.3,665.8 246.3,656.3 247.9,660.5 249.5,663.7 251.6,661.6 253.7,663.2 255.8,662.1 258.9,664.2 262.1,665.3 265.3,662.6 267.4,660.5 268.9,665.8 270.5,662.6 272.6,663.2 275.8,663.2 276.8,657.9 277.9,666.3 280.0,663.7 282.1,661.6 284.2,664.7 286.3,663.7 287.9,664.2" fill="none" stroke="#000" stroke-width="1.9" stroke-linejoin="round" stroke-linecap="round"/>
<polyline points="296.8,659.7 297.4,665.0 298.9,664.5 300.0,662.9 301.6,666.1 303.2,665.5 304.2,656.6 305.8,656.6 306.8,662.9 308.4,660.8 309.5,662.9 311.1,650.8 312.1,666.1 313.2,661.8 314.7,641.8 315.8,641.3 316.4,662.0 317.2,641.0 318.4,641.8 318.2,661.3 318.9,656.6 320.5,656.6 322.6,656.1" fill="none" stroke="#000" stroke-width="1.9" stroke-linejoin="round" stroke-linecap="round"/>
<polyline points="331.6,660.8 332.6,665.5 333.7,660.8 334.7,663.9 335.8,658.7 336.8,665.0 338.4,661.8 339.5,665.5 341.6,664.5 343.2,666.1 345.3,666.6 347.4,665.5 348.4,662.9 349.5,666.6 352.1,666.1 354.2,666.6 355.8,664.5 357.4,665.5 359.5,666.1 362.1,666.6" fill="none" stroke="#000" stroke-width="1.9" stroke-linejoin="round" stroke-linecap="round"/>
<polyline points="370.3,665.0 371.3,661.8 372.9,659.2 374.5,660.8 376.1,662.9 378.2,662.4 380.3,665.0 381.3,661.3 382.9,664.0 384.5,659.7 386.1,655.5 387.1,661.3 388.2,658.7 389.7,657.6 390.8,660.3 391.8,656.6 393.4,656.6 395.5,652.9" fill="none" stroke="#000" stroke-width="1.9" stroke-linejoin="round" stroke-linecap="round"/>
<polyline points="404.5,662.4 405.5,665.0 407.1,662.9 409.2,661.8 411.3,663.4 413.4,662.4 416.1,661.8 417.6,661.8 419.7,660.3 421.3,656.1 422.4,653.4 423.4,656.6 425.0,661.3 426.6,663.4 428.2,664.5 429.7,660.3 431.3,664.5 432.4,660.8 433.4,657.6 434.5,662.9 435.5,660.8" fill="none" stroke="#000" stroke-width="1.9" stroke-linejoin="round" stroke-linecap="round"/>
<polyline points="444.7,660.8 445.8,643.9 446.5,655.5 447.4,655.0 448.4,656.6 449.5,655.5 450.0,659.7 451.6,660.8 453.7,660.8 455.8,662.4 457.9,658.7 459.5,660.3 461.6,661.8 464.2,663.4 466.3,662.9 468.4,659.7 470.5,660.8 471.6,661.8" fill="none" stroke="#000" stroke-width="1.9" stroke-linejoin="round" stroke-linecap="round"/>
<polyline points="480.5,661.3 483.2,659.2 485.3,661.8 487.4,662.9 488.9,664.5 490.5,657.6 491.6,659.7 492.6,656.6 494.2,657.1 495.8,650.8 497.4,652.4 498.9,659.7 500.5,652.4 502.1,649.2 503.2,652.4 504.2,644.5 505.8,642.9 507.4,646.1 508.4,642.9 510.0,644.5 511.6,646.6 512.6,647.1" fill="none" stroke="#000" stroke-width="1.9" stroke-linejoin="round" stroke-linecap="round"/>
<polyline points="521.1,659.0 523.2,656.8 525.3,655.8 526.3,664.7 527.9,661.6 528.9,665.8 530.5,660.5 532.1,660.0 533.7,663.7 535.8,665.3 537.4,660.5 539.5,662.6 541.1,664.2 543.2,663.2 545.3,662.6 547.4,663.7 549.5,663.7 551.6,665.3 553.7,661.1 555.8,660.0 557.4,659.5 558.9,661.6" fill="none" stroke="#000" stroke-width="1.9" stroke-linejoin="round" stroke-linecap="round"/>
<polyline points="568.6,663.7 568.6,648.4 570.5,647.9 572.1,650.5 573.2,648.9 574.2,645.8 574.9,663.7 576.8,663.7 578.4,647.4 579.5,663.7 581.1,663.7 582.1,602.1 583.2,602.1 583.7,634.2 584.7,632.1 585.8,645.8 586.8,657.4 587.4,649.0 588.9,652.1 590.5,653.2 592.1,649.5 593.7,661.6 594.9,665.3 595.8,638.4 596.8,663.7 597.9,651.1 598.9,664.7 600.2,627.9 601.1,653.2 602.1,657.4 603.2,653.7 604.2,655.3" fill="none" stroke="#000" stroke-width="1.9" stroke-linejoin="round" stroke-linecap="round"/>
<polyline points="612.9,664.0 613.9,658.7 615.5,647.1 617.1,643.9 617.8,640.8 618.7,647.1 619.7,650.3 620.8,651.3 621.8,655.5 622.9,654.5 623.9,659.7 625.0,665.0 626.1,666.1 627.1,660.8 628.7,660.8 630.3,659.2 631.3,660.8 632.4,661.8 633.4,656.1 634.5,659.2 636.1,658.7 637.6,654.5 639.2,652.9 640.8,657.6 642.0,648.7 642.9,664.0 643.9,654.5 645.0,655.0" fill="none" stroke="#000" stroke-width="1.9" stroke-linejoin="round" stroke-linecap="round"/>
<polyline points="654.0,661.8 655.0,658.7 657.1,657.6 658.7,658.7 660.8,661.3 662.9,664.5 665.0,665.5 668.2,663.9 671.3,662.4 673.4,662.4 675.0,660.8 676.6,660.8 678.7,663.4 680.8,663.4 682.9,664.5 686.1,663.4 688.2,661.3 690.3,657.6 691.8,660.3 694.5,660.3 697.6,659.7 700.8,660.3 702.4,661.3" fill="none" stroke="#000" stroke-width="1.9" stroke-linejoin="round" stroke-linecap="round"/>
<polyline points="711.9,665.7 713.3,654.7 714.3,665.2 716.6,665.7 718.3,662.8 719.5,660.0 721.2,663.4 722.4,653.6 723.5,653.0 724.7,665.2 725.6,625.8 726.4,665.2 727.6,643.2 728.7,644.3 729.3,661.1 730.5,654.7 732.2,654.7 733.9,661.7 735.3,665.7 736.5,638.5" fill="none" stroke="#000" stroke-width="1.9" stroke-linejoin="round" stroke-linecap="round"/>
<polyline points="745.5,663.4 746.7,660.0 748.1,649.5 749.6,657.1 750.7,659.4 752.5,653.6 754.2,652.4 755.9,653.6 757.1,647.8 758.3,652.4 760.0,657.1 761.7,661.7 762.9,663.4 764.6,659.4 766.4,657.1 768.1,658.2 769.3,662.8 770.4,660.5 772.2,664.0 773.3,664.6" fill="none" stroke="#000" stroke-width="1.9" stroke-linejoin="round" stroke-linecap="round"/>
<polyline points="782.0,659.4 783.7,657.6 784.9,661.7 786.1,663.4 787.8,665.2 789.5,663.4 791.3,664.0 793.0,664.6 794.2,657.1 794.7,664.6 796.5,664.6 798.8,663.4 801.1,664.0 803.4,664.6 805.7,664.6 807.5,664.0 809.8,666.3" fill="none" stroke="#000" stroke-width="1.9" stroke-linejoin="round" stroke-linecap="round"/>
<polyline points="818.5,643.1 819.2,648.5 820.0,642.3 822.3,643.8 825.4,643.8 827.7,641.5 828.5,664.6 829.2,641.5 830.8,635.4 831.5,664.6 832.3,635.4 833.1,649.2 834.6,647.7 836.2,638.5 837.7,630.8 839.2,638.5 840.8,635.4 842.3,639.2 843.8,633.8 845.4,620.0 846.2,600.0 846.9,583.1 847.7,580.0 848.2,558.5 849.2,556.9 850.0,575.4 850.8,561.5 851.8,569.2 852.8,546.2 853.8,530.8 854.6,520.0 855.4,516.9 855.8,533.0 856.2,518.5 856.9,519.2 857.3,536.0 857.7,546.2 858.5,580.0" fill="none" stroke="#000" stroke-width="1.9" stroke-linejoin="round" stroke-linecap="round"/>
<polyline points="867.5,661.5 869.2,659.8 872.5,658.9 874.2,655.6 875.9,660.6 877.6,652.2 879.3,649.7 880.9,653.9 882.3,652.2 883.5,662.3 885.2,657.3 886.8,664.0 889.4,664.8 892.7,664.0 896.1,661.5 898.6,658.1 901.2,658.9 902.8,663.2 904.5,657.3 906.2,662.3 907.9,655.6 909.6,653.9 910.4,663.2 911.3,662.3" fill="none" stroke="#000" stroke-width="1.9" stroke-linejoin="round" stroke-linecap="round"/>
<polyline points="921.4,652.2 923.1,656.4 924.7,653.9 927.3,647.2 929.8,643.8 932.3,645.5 934.0,650.5 935.2,662.3 936.5,664.8 938.2,652.2 939.6,658.9 940.7,655.6 942.4,658.1 944.1,656.4" fill="none" stroke="#000" stroke-width="1.9" stroke-linejoin="round" stroke-linecap="round"/>
<path d="M579.3,528.4 L586.3,528.4 L586.3,575.9 L593.3,575.9 L582.8,587.9 L572.3,575.9 L579.3,575.9 Z" fill="#000"/>
<path d="M851.3,449.8 L858.3,449.8 L858.3,497.3 L865.3,497.3 L854.8,508.9 L844.3,497.3 L851.3,497.3 Z" fill="#000"/>
<rect x="113.6" y="790.5" width="835" height="259.6" fill="none" stroke="#3b3147" stroke-width="1.3"/>
<line x1="949" y1="789.9" x2="949" y2="1050.7" stroke="#4a4550" stroke-width="2.2"/>
<line x1="99" y1="1040.5" x2="113.6" y2="1040.5" stroke="#4e4458" stroke-width="1.3"/>
<text x="85.5" y="1049.7" font-size="25.5" text-anchor="end">0</text>
<line x1="99" y1="1000.4" x2="113.6" y2="1000.4" stroke="#4e4458" stroke-width="1.3"/>
<text x="85.5" y="1009.6" font-size="25.5" text-anchor="end">2</text>
<line x1="99" y1="960.3" x2="113.6" y2="960.3" stroke="#4e4458" stroke-width="1.3"/>
<text x="85.5" y="969.5" font-size="25.5" text-anchor="end">4</text>
<line x1="99" y1="920.2" x2="113.6" y2="920.2" stroke="#4e4458" stroke-width="1.3"/>
<text x="85.5" y="929.4" font-size="25.5" text-anchor="end">6</text>
<line x1="99" y1="880.1" x2="113.6" y2="880.1" stroke="#4e4458" stroke-width="1.3"/>
<text x="85.5" y="889.3" font-size="25.5" text-anchor="end">8</text>
<line x1="99" y1="840.0" x2="113.6" y2="840.0" stroke="#4e4458" stroke-width="1.3"/>
<text x="85.5" y="849.2" font-size="25.5" text-anchor="end">10</text>
<line x1="99" y1="799.9" x2="113.6" y2="799.9" stroke="#4e4458" stroke-width="1.3"/>
<text x="85.5" y="809.1" font-size="25.5" text-anchor="end">12</text>
<rect x="117.3" y="1044.7" width="40.0" height="5.4" fill="#000"/>
<rect x="165.7" y="1044.7" width="35.3" height="5.4" fill="#000"/>
<rect x="209" y="1044.7" width="26.2" height="5.4" fill="#000"/>
<rect x="243.8" y="1044.7" width="44.6" height="5.4" fill="#000"/>
<rect x="296.8" y="1044.7" width="26.4" height="5.4" fill="#000"/>
<rect x="331.6" y="1044.7" width="30.9" height="5.4" fill="#000"/>
<rect x="370.5" y="1044.7" width="25.3" height="5.4" fill="#000"/>
<rect x="404.2" y="1044.7" width="32.0" height="5.4" fill="#000"/>
<rect x="444.2" y="1044.7" width="28.4" height="5.4" fill="#000"/>
<rect x="480.6" y="1044.7" width="32.0" height="5.4" fill="#000"/>
<rect x="521" y="1044.7" width="39.0" height="5.4" fill="#000"/>
<rect x="567.8" y="1044.7" width="36.4" height="5.4" fill="#000"/>
<rect x="612" y="1044.7" width="33.3" height="5.4" fill="#000"/>
<rect x="653.5" y="1044.7" width="49.7" height="5.4" fill="#000"/>
<rect x="711.2" y="1044.7" width="26.1" height="5.4" fill="#000"/>
<rect x="745.3" y="1044.7" width="27.7" height="5.4" fill="#000"/>
<rect x="781.5" y="1044.7" width="28.6" height="5.4" fill="#000"/>
<rect x="818.2" y="1044.7" width="40.5" height="5.4" fill="#000"/>
<rect x="867.1" y="1044.7" width="45.0" height="5.4" fill="#000"/>
<rect x="920.6" y="1044.7" width="24.0" height="5.4" fill="#000"/>
<line x1="137.5" y1="1050.1" x2="137.5" y2="1064.6" stroke="#4e4458" stroke-width="1.3"/>
<text x="137.5" y="1098.4" font-size="25.5" text-anchor="middle">1</text>
<line x1="183.6" y1="1050.1" x2="183.6" y2="1064.6" stroke="#4e4458" stroke-width="1.3"/>
<text x="183.6" y="1098.4" font-size="25.5" text-anchor="middle">2</text>
<line x1="222.1" y1="1050.1" x2="222.1" y2="1064.6" stroke="#4e4458" stroke-width="1.3"/>
<text x="222.1" y="1098.4" font-size="25.5" text-anchor="middle">3</text>
<line x1="266.3" y1="1050.1" x2="266.3" y2="1064.6" stroke="#4e4458" stroke-width="1.3"/>
<text x="266.3" y="1098.4" font-size="25.5" text-anchor="middle">4</text>
<line x1="310.1" y1="1050.1" x2="310.1" y2="1064.6" stroke="#4e4458" stroke-width="1.3"/>
<text x="310.1" y="1098.4" font-size="25.5" text-anchor="middle">5</text>
<line x1="346.7" y1="1050.1" x2="346.7" y2="1064.6" stroke="#4e4458" stroke-width="1.3"/>
<text x="346.7" y="1098.4" font-size="25.5" text-anchor="middle">6</text>
<line x1="383.2" y1="1050.1" x2="383.2" y2="1064.6" stroke="#4e4458" stroke-width="1.3"/>
<text x="383.2" y="1098.4" font-size="25.5" text-anchor="middle">7</text>
<line x1="420" y1="1050.1" x2="420" y2="1064.6" stroke="#4e4458" stroke-width="1.3"/>
<text x="420" y="1098.4" font-size="25.5" text-anchor="middle">8</text>
<line x1="458.5" y1="1050.1" x2="458.5" y2="1064.6" stroke="#4e4458" stroke-width="1.3"/>
<text x="458.5" y="1098.4" font-size="25.5" text-anchor="middle">9</text>
<line x1="496.8" y1="1050.1" x2="496.8" y2="1064.6" stroke="#4e4458" stroke-width="1.3"/>
<text x="496.8" y="1098.4" font-size="25.5" text-anchor="middle">10</text>
<line x1="540" y1="1050.1" x2="540" y2="1064.6" stroke="#4e4458" stroke-width="1.3"/>
<text x="540" y="1098.4" font-size="25.5" text-anchor="middle">11</text>
<line x1="585.9" y1="1050.1" x2="585.9" y2="1064.6" stroke="#4e4458" stroke-width="1.3"/>
<text x="585.9" y="1098.4" font-size="25.5" text-anchor="middle">12</text>
<line x1="628.4" y1="1050.1" x2="628.4" y2="1064.6" stroke="#4e4458" stroke-width="1.3"/>
<text x="628.4" y="1098.4" font-size="25.5" text-anchor="middle">13</text>
<line x1="678.3" y1="1050.1" x2="678.3" y2="1064.6" stroke="#4e4458" stroke-width="1.3"/>
<text x="678.3" y="1098.4" font-size="25.5" text-anchor="middle">14</text>
<line x1="724.2" y1="1050.1" x2="724.2" y2="1064.6" stroke="#4e4458" stroke-width="1.3"/>
<text x="724.2" y="1098.4" font-size="25.5" text-anchor="middle">15</text>
<line x1="759.4" y1="1050.1" x2="759.4" y2="1064.6" stroke="#4e4458" stroke-width="1.3"/>
<text x="759.4" y="1098.4" font-size="25.5" text-anchor="middle">16</text>
<line x1="795.8" y1="1050.1" x2="795.8" y2="1064.6" stroke="#4e4458" stroke-width="1.3"/>
<text x="795.8" y="1098.4" font-size="25.5" text-anchor="middle">17</text>
<line x1="838.5" y1="1050.1" x2="838.5" y2="1064.6" stroke="#4e4458" stroke-width="1.3"/>
<text x="838.5" y="1098.4" font-size="25.5" text-anchor="middle">18</text>
<line x1="889.7" y1="1050.1" x2="889.7" y2="1064.6" stroke="#4e4458" stroke-width="1.3"/>
<text x="889.7" y="1098.4" font-size="25.5" text-anchor="middle">19</text>
<line x1="932.8" y1="1050.1" x2="932.8" y2="1064.6" stroke="#4e4458" stroke-width="1.3"/>
<text x="932.8" y="1098.4" font-size="25.5" text-anchor="middle">20</text>
<text x="449" y="1135" font-size="28">Chromosome</text>
<text x="0" y="0" font-size="28" text-anchor="middle" transform="translate(21.1,920.3) rotate(-90)">LOD (additive)</text>
<line x1="115" y1="962.9" x2="948" y2="962.9" stroke="#f9a27e" stroke-width="1.9" stroke-dasharray="2.6 5" stroke-dashoffset="2.4"/>
<text x="118.8" y="828.4" font-size="38.5" fill="#3e1b92" letter-spacing="-1.05">BC - B14</text>
<polyline points="118.1,1032.7 119.7,1027.3 120.8,1039.5 121.5,1015.0 122.9,1017.7 124.2,1019.1 125.6,1038.2 126.5,995.9 127.6,975.5 129.0,973.4 129.7,990.5 130.4,979.5 131.0,1031.4 131.7,983.6 132.4,1036.8 132.8,968.6 133.8,1015.0 134.5,987.7 135.8,1004.1 137.2,1038.2 138.5,1017.7 139.2,979.5 139.9,1036.8 140.6,987.7 142.0,974.1 143.3,963.2 144.7,961.8 145.4,938.6 146.7,935.9 148.1,903.2 149.2,922.3 150.1,946.8 150.8,923.6 152.2,929.1 152.9,940.0 154.2,930.5 154.9,938.6 155.6,940.0 157.0,974.1" fill="none" stroke="#4b269c" stroke-width="1.9" stroke-linejoin="round" stroke-linecap="round"/>
<polyline points="165.8,1013.4 166.3,1009.2 167.9,1011.3 170.0,1014.5 172.1,1008.7 174.2,1005.5 175.8,1006.6 177.4,1008.7 179.5,1006.6 181.1,1006.1 182.6,1007.1 183.7,1003.4 184.7,1007.6 185.8,1001.3 187.4,991.8 188.9,987.1 190.5,987.6 191.6,991.8 192.6,1004.5 193.2,1036.1 194.2,1038.2 195.3,999.2 195.8,1039.2 196.3,999.2 196.8,1031.8 197.4,984.0 198.4,1010.8 199.2,984.0 200.0,1006.6 200.8,984.5 201.1,1005.5" fill="none" stroke="#4b269c" stroke-width="1.9" stroke-linejoin="round" stroke-linecap="round"/>
<polyline points="209.5,1036.6 211.6,1034.0 213.2,1029.7 214.7,1038.2 216.3,1034.5 217.9,1031.8 218.9,1038.2 220.0,1030.8 221.6,1031.8 222.6,1026.6 223.7,1017.6 224.7,1024.5 226.3,1026.6 227.9,1033.9 228.9,1038.2 230.5,1030.8 232.1,1029.7 233.2,1037.1 234.9,989.2" fill="none" stroke="#4b269c" stroke-width="1.9" stroke-linejoin="round" stroke-linecap="round"/>
<polyline points="243.7,1016.6 245.1,1017.1 245.8,1031.3 246.8,1030.8 247.9,1023.4 249.5,1022.9 251.6,1024.0 254.2,1024.0 255.8,1024.5 257.9,1027.6 258.9,1018.7 260.5,1013.9 262.6,1007.6 263.7,1009.7 264.7,1027.6 265.8,1033.9 267.4,1034.5 268.6,1025.5 269.5,1032.9 270.5,1034.5 272.1,1032.4 273.7,1030.8 275.3,1031.8 276.8,1032.9 278.4,1033.4 280.0,1024.5 281.1,1032.4 282.1,1024.5 283.2,1031.8 284.2,1032.4 285.8,1035.0 286.8,1036.1 287.4,1039.2 288.4,1038.7" fill="none" stroke="#4b269c" stroke-width="1.9" stroke-linejoin="round" stroke-linecap="round"/>
<polyline points="296.8,1038.2 297.7,1032.4 298.9,1037.1 300.5,1037.6 302.1,1024.0 303.2,1038.2 304.2,1034.0 305.3,1039.2 306.1,1027.6 307.4,1029.7 308.9,1022.4 310.0,1020.3 311.6,1031.8 312.6,1024.5 313.7,1015.5 314.7,1021.3 315.8,1022.4 317.4,1024.5 318.4,1026.6 319.5,1038.2 320.5,1025.5 321.6,1037.1 322.6,1035.5" fill="none" stroke="#4b269c" stroke-width="1.9" stroke-linejoin="round" stroke-linecap="round"/>
<polyline points="331.8,1032.4 332.9,1027.6 333.4,1019.2 334.5,1012.9 336.1,992.9 337.1,1008.7 337.6,1034.0 338.5,1009.7 339.2,1034.0 339.7,1009.7 340.8,1016.1 341.8,1040.3 342.4,1010.8 343.4,1021.3 344.5,1025.5 345.5,1032.9 346.6,1024.0 348.2,1025.5 349.2,1026.6 350.3,1036.1 351.8,1038.2 353.4,1039.2 355.0,1038.2 357.1,1038.7 358.7,1039.2 360.3,1031.3 360.8,1039.2 361.8,1039.7" fill="none" stroke="#4b269c" stroke-width="1.9" stroke-linejoin="round" stroke-linecap="round"/>
<polyline points="370.8,1033.4 372.4,1029.7 372.9,1037.6 373.9,1034.0 375.0,1035.0 376.1,1037.1 377.1,1035.0 378.2,1036.1 379.2,1028.2 380.3,1035.5 381.8,1038.2 383.4,1038.7 384.5,1036.1 385.8,1024.5 387.1,1030.3 388.2,1023.4 389.2,1035.0 390.3,1023.4 391.3,1022.4 392.4,1028.7 393.9,1035.5 395.0,1036.6" fill="none" stroke="#4b269c" stroke-width="1.9" stroke-linejoin="round" stroke-linecap="round"/>
<polyline points="404.7,1038.2 405.5,1031.3 406.3,1039.2 407.9,1039.7 410.0,1038.7 410.5,1032.9 412.1,1033.4 413.7,1031.3 415.3,1033.9 416.8,1033.4 418.9,1030.8 421.1,1028.7 422.6,1026.6 423.2,1020.3 424.2,1020.3 425.3,1030.3 427.4,1032.9 429.5,1035.0 431.1,1010.8 431.9,1038.2 433.2,986.6 433.9,1017.1 434.7,1000.3 435.8,1025.5" fill="none" stroke="#4b269c" stroke-width="1.9" stroke-linejoin="round" stroke-linecap="round"/>
<polyline points="444.2,1025.5 445.3,1021.3 446.1,1039.2 446.8,1020.3 447.9,1006.6 448.4,1017.1 449.3,1035.0 450.0,1019.2 451.1,1021.3 451.6,1035.0 453.2,1035.5 454.7,1036.6 456.3,1031.8 457.4,1033.4 458.9,1029.7 460.5,1030.8 463.2,1033.4 465.3,1035.0 466.8,1032.9 468.9,1038.2 470.5,1033.9 472.1,1036.6" fill="none" stroke="#4b269c" stroke-width="1.9" stroke-linejoin="round" stroke-linecap="round"/>
<polyline points="481.1,1024.0 482.1,1006.6 483.2,991.3 484.2,1000.3 485.3,996.1 486.3,990.8 487.9,987.6 488.9,983.9 490.0,994.5 492.1,994.5 493.2,990.3 494.2,990.8 494.7,1002.4 496.3,1005.5 497.4,1008.7 497.9,1021.3 499.5,1022.4 500.0,1031.8 502.1,1035.0 504.2,1037.1 507.4,1038.7 510.0,1037.1 511.6,1035.5 512.6,1038.2" fill="none" stroke="#4b269c" stroke-width="1.9" stroke-linejoin="round" stroke-linecap="round"/>
<polyline points="521.1,1010.8 522.6,1010.8 523.7,994.0 525.8,994.0 526.8,1011.8 528.4,1009.7 529.5,1019.2 530.5,1017.1 531.4,1005.0 532.1,1024.0 533.7,1015.0 535.3,1006.6 536.8,998.2 538.4,1000.3 539.5,1002.9 540.3,994.5 541.1,1008.7 542.6,1017.1 543.7,1022.4 544.7,1017.1 546.1,1008.7 547.4,1011.8 548.4,1021.3 549.5,1015.0 550.5,1015.5 551.6,1019.2 553.2,1023.4 554.5,1029.7 555.6,1023.4 556.6,1019.7 557.9,1026.6 558.7,1033.9 559.5,1030.8" fill="none" stroke="#4b269c" stroke-width="1.9" stroke-linejoin="round" stroke-linecap="round"/>
<polyline points="568.9,1027.1 570.0,1032.9 572.1,1037.1 574.2,1035.0 575.8,1031.8 576.8,1026.6 577.9,1031.8 578.7,1016.1 579.5,1033.9 580.2,1014.0 581.1,1039.2 581.6,1014.0 582.6,1038.2 584.2,1037.1 585.8,1035.0 586.8,1027.6 588.4,1029.2 590.5,1028.7 592.6,1026.6 593.7,1024.0 594.7,1027.6 595.8,1024.5 596.3,1030.8 597.4,1019.2 598.4,1027.6 599.5,1038.2 600.5,1023.4 601.6,1026.6 603.2,1020.3 604.0,1019.2" fill="none" stroke="#4b269c" stroke-width="1.9" stroke-linejoin="round" stroke-linecap="round"/>
<polyline points="612.6,1033.9 614.2,1038.2 615.3,1039.2 616.8,1035.0 618.4,1037.1 619.5,1032.9 621.1,1037.1 623.2,1038.2 625.3,1036.1 627.4,1033.9 628.9,1035.5 630.5,1030.8 631.6,1027.6 632.6,1019.2 633.7,1024.5 635.3,1027.6 636.8,1027.1 638.4,1030.8 640.0,1032.9 641.6,1037.1 643.2,1029.7 644.7,1031.8" fill="none" stroke="#4b269c" stroke-width="1.9" stroke-linejoin="round" stroke-linecap="round"/>
<polyline points="653.4,994.5 656.6,995.0 659.7,993.9 662.9,993.4 664.0,990.8 665.5,995.0 666.6,1001.3 667.3,1011.8 668.2,1039.2 669.2,1009.7 670.3,1020.3 671.3,1008.7 672.4,1024.5 673.4,1005.5 674.5,1020.3 675.5,1008.7 676.6,1022.4 677.6,1017.1 678.7,1019.2 680.3,1009.2 681.3,1027.6 682.4,1019.2 683.9,1035.0 685.0,1015.0 686.1,1037.1 687.1,1031.8 688.7,1021.3 690.3,1016.1 691.3,1038.2 692.9,1022.4 695.0,1022.4 696.6,1019.2 698.7,1015.0 700.3,1012.9 702.4,1012.9 702.4,1007.6" fill="none" stroke="#4b269c" stroke-width="1.9" stroke-linejoin="round" stroke-linecap="round"/>
<polyline points="711.8,1037.1 713.2,1035.0 713.9,1033.4 715.0,1039.2 716.6,1040.3 718.2,1040.8 719.2,1027.1 720.0,1039.2 721.3,1036.1 722.9,1038.2 724.5,1028.2 725.5,1034.5 727.1,1035.5 729.2,1038.2 732.4,1038.7 735.0,1039.7 736.1,1028.7" fill="none" stroke="#4b269c" stroke-width="1.9" stroke-linejoin="round" stroke-linecap="round"/>
<polyline points="745.5,1014.5 745.8,1023.4 747.1,1024.5 748.7,1028.7 750.3,1031.8 750.8,1036.1 752.4,1037.1 753.4,1033.9 753.9,1024.5 755.0,1030.8 756.1,1025.5 757.1,1026.6 758.2,1023.4 759.7,1019.2 761.3,1010.8 762.9,1001.3 764.5,992.9 766.1,986.6 767.1,986.6 767.6,1003.4 768.7,999.2 770.3,999.7 771.8,1000.3 772.9,1021.3" fill="none" stroke="#4b269c" stroke-width="1.9" stroke-linejoin="round" stroke-linecap="round"/>
<polyline points="781.8,1033.9 783.4,1037.1 784.5,1040.3 786.1,1040.3 786.6,1022.4 787.6,1040.3 788.5,1013.4 789.5,1028.7 790.8,1021.3 791.8,1030.8 792.9,1022.4 793.9,1033.9 795.5,1026.6 797.1,1022.4 798.7,1018.7 800.3,1019.2 801.3,1021.3 802.4,1028.7 803.9,1029.7 805.5,1026.6 806.6,1031.8 807.6,1027.6 808.5,1026.6 809.2,1039.7" fill="none" stroke="#4b269c" stroke-width="1.9" stroke-linejoin="round" stroke-linecap="round"/>
<polyline points="818.3,1037.6 820.4,1038.2 822.5,1037.1 824.1,1038.7 825.7,1038.2 827.8,1038.2 828.8,1036.6 830.4,1037.6 832.0,1033.9 833.1,1039.2 834.6,1039.7 836.2,1038.2 837.8,1037.1 839.2,1030.8 840.4,1033.4 842.5,1033.4 844.1,1025.5 845.2,1028.7 846.2,1026.1 847.3,1027.6 848.3,1034.5 849.9,1035.0 850.9,1038.2 852.5,1038.7 853.6,1036.1 854.6,1039.7 855.7,1038.2 856.7,1030.8 858.3,1024.5" fill="none" stroke="#4b269c" stroke-width="1.9" stroke-linejoin="round" stroke-linecap="round"/>
<polyline points="867.3,1022.9 869.4,1022.9 871.5,1021.3 872.5,1015.5 874.1,1016.6 875.2,1012.9 876.7,1011.3 878.3,1010.3 880.4,1011.8 882.0,1012.4 883.4,988.7 884.6,1006.6 885.7,1003.4 887.3,1003.9 888.8,1006.1 890.4,1009.2 891.5,1006.6 892.5,1021.3 893.6,1008.7 894.1,1025.5 895.2,1017.1 896.7,1018.2 897.8,1021.3 898.8,1038.2 900.4,1040.3 902.5,1038.2 904.1,1032.9 905.7,1023.4 906.7,1039.2 907.3,1025.5 908.8,1029.7 910.4,1030.8 911.5,1029.7" fill="none" stroke="#4b269c" stroke-width="1.9" stroke-linejoin="round" stroke-linecap="round"/>
<polyline points="920.8,1039.0 923.2,1038.2 925.0,1031.9 928.5,1024.7 933.0,1016.7 934.8,1014.0 936.6,994.3 937.5,989.8 939.3,1003.3 941.1,1000.6 942.0,1008.6 943.2,1001.5 944.6,1014.0" fill="none" stroke="#4b269c" stroke-width="1.9" stroke-linejoin="round" stroke-linecap="round"/>
<path d="M145.4,838.1 L152.4,838.1 L152.4,885.9 L159.4,885.9 L148.9,896.8 L138.4,885.9 L145.4,885.9 Z" fill="#000"/>
<circle cx="109.8" cy="934" r="1.0" fill="#443a4c"/>
<circle cx="182.8" cy="934" r="1.0" fill="#443a4c"/>
<circle cx="788.4" cy="864.6" r="1.0" fill="#443a4c"/>
<circle cx="820.1" cy="864.2" r="1.0" fill="#443a4c"/>
<circle cx="896.3" cy="864.6" r="1.0" fill="#443a4c"/>
</svg>
</body></html>
